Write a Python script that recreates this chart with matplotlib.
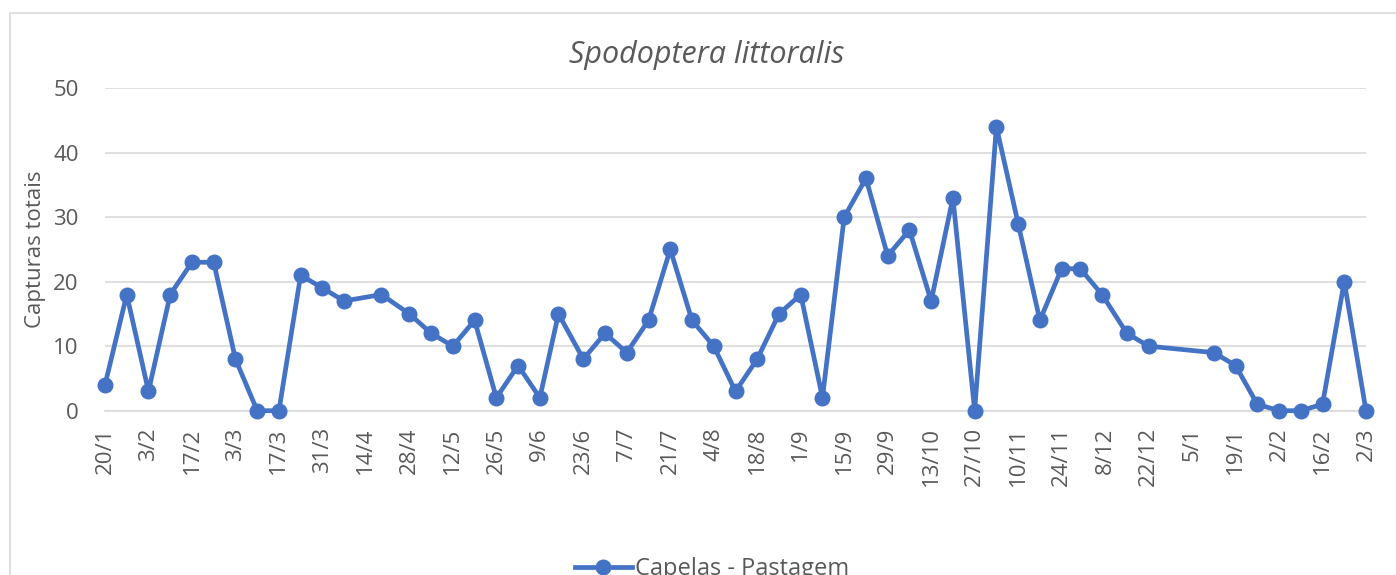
import matplotlib
matplotlib.use('Agg')
import matplotlib.pyplot as plt
from matplotlib.lines import Line2D
from matplotlib.patches import Rectangle
import pandas as pd

# sampling dates (day/month), two seasons
dates = ['2018-01-20', '2018-01-27', '2018-02-03', '2018-02-10', '2018-02-17', '2018-02-24',
         '2018-03-03', '2018-03-10', '2018-03-17', '2018-03-24', '2018-03-31', '2018-04-07',
         '2018-04-19', '2018-04-28', '2018-05-05', '2018-05-12', '2018-05-19', '2018-05-26',
         '2018-06-02', '2018-06-09', '2018-06-15', '2018-06-23', '2018-06-30', '2018-07-07',
         '2018-07-14', '2018-07-21', '2018-07-28', '2018-08-04', '2018-08-11', '2018-08-18',
         '2018-08-25', '2018-09-01', '2018-09-08', '2018-09-15', '2018-09-22', '2018-09-29',
         '2018-10-06', '2018-10-13', '2018-10-20', '2018-10-27', '2018-11-03', '2018-11-10',
         '2018-11-17', '2018-11-24', '2018-11-30', '2018-12-07', '2018-12-15', '2018-12-22',
         '2019-01-12', '2019-01-19', '2019-01-26', '2019-02-02', '2019-02-09', '2019-02-16',
         '2019-02-23', '2019-03-02']
capturas = [4, 18, 3, 18, 23, 23,
            8, 0, 0, 21, 19, 17,
            18, 15, 12, 10, 14, 2,
            7, 2, 15, 8, 12, 9,
            14, 25, 14, 10, 3, 8,
            15, 18, 2, 30, 36, 24,
            28, 17, 33, 0, 44, 29,
            14, 22, 22, 18, 12, 10,
            9, 7, 1, 0, 0, 1,
            20, 0]
serie = 'Capelas - Pastagem'
titulo = 'Spodoptera littoralis'
y_ticks = [0, 10, 20, 30, 40, 50]

dates = pd.to_datetime(dates)
grey = '#595959'
blue = '#4472C4'

plt.rcParams['font.family'] = ['Open Sans', 'DejaVu Sans']

W, H = 1396, 575
fig = plt.figure(figsize=(W / 100, H / 100), dpi=100)
ax = fig.add_axes([105 / W, 1 - 410.7 / H, 1261 / W, 322.7 / H])

ax.plot(dates, capturas, color=blue, lw=3.4, marker='o', ms=10.5,
        solid_joinstyle='round', clip_on=False, zorder=3)

ax.set_ylim(0, 50)
ax.set_yticks(y_ticks)
ax.set_xlim(dates[0], dates[-1])
ticks = pd.date_range(dates[0], dates[-1], freq='14D')
ax.set_xticks(ticks)
ax.set_xticklabels(['{}/{}'.format(d.day, d.month) for d in ticks], rotation=90)

ax.grid(axis='y', color='#D9D9D9', lw=1.2)
ax.set_axisbelow(True)
for s in ['top', 'right', 'left']:
    ax.spines[s].set_visible(False)
ax.spines['bottom'].set_color('#D9D9D9')
ax.spines['bottom'].set_linewidth(1.2)
ax.tick_params(axis='both', length=0, labelsize=16, colors=grey)
ax.tick_params(axis='y', pad=19)
ax.tick_params(axis='x', pad=12)

ax.set_ylabel('Capturas totais', fontsize=16, color=grey)
ax.yaxis.set_label_coords(-0.047, 0.5)

fig.text(707 / W, 1 - 55 / H, titulo, fontsize=22, style='italic', color=grey,
         ha='center', va='center')

# chart area frame (cropped at right and bottom)
fig.add_artist(Rectangle((10 / W, -0.2), 1.2, 1 - 13 / H + 0.2, transform=fig.transFigure,
                         fill=False, edgecolor='#D9D9D9', lw=1.2, clip_on=False))

handle = Line2D([], [], color=blue, lw=3.4, marker='o', ms=10.5)
fig.legend([handle], [serie], loc='center', bbox_to_anchor=(712 / W, 1 - 569 / H),
           frameon=False, fontsize=17, labelcolor=grey, handlelength=2.4, handletextpad=0.15)

fig.savefig('out.png', dpi=100)
